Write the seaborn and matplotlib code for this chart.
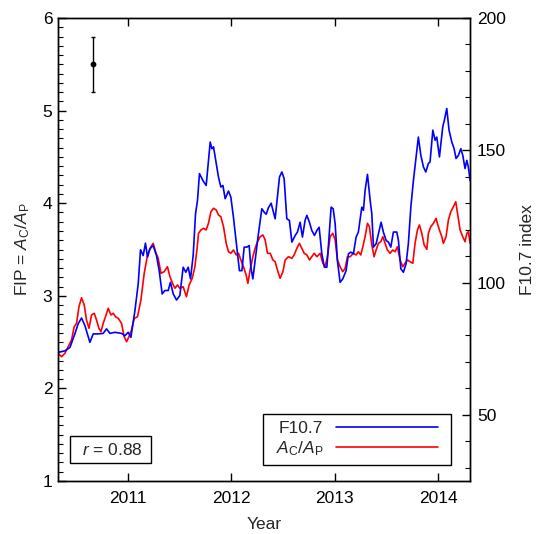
import numpy as np
import pandas as pd
import seaborn as sns
import matplotlib.pyplot as plt
from matplotlib.lines import Line2D
from matplotlib.patches import Rectangle
from matplotlib.ticker import MultipleLocator, NullLocator

# F10.7 index (right axis)
f107_year = [2010.322, 2010.387, 2010.436, 2010.484, 2010.516, 2010.548, 2010.581, 2010.629,
             2010.661, 2010.710, 2010.758, 2010.790, 2010.823, 2010.871, 2010.935, 2010.968,
             2011.000, 2011.026, 2011.065, 2011.097, 2011.119, 2011.145, 2011.167, 2011.187,
             2011.210, 2011.242, 2011.274, 2011.300, 2011.329, 2011.355, 2011.387, 2011.409,
             2011.436, 2011.468, 2011.500, 2011.532, 2011.558, 2011.581, 2011.603, 2011.629,
             2011.652, 2011.671, 2011.690, 2011.723, 2011.755, 2011.777, 2011.794, 2011.810,
             2011.826, 2011.852, 2011.874, 2011.897, 2011.917, 2011.939, 2011.971, 2011.994,
             2012.019, 2012.052, 2012.077, 2012.101, 2012.123, 2012.149, 2012.171, 2012.188,
             2012.207, 2012.229, 2012.261, 2012.294, 2012.317, 2012.336, 2012.358, 2012.384,
             2012.407, 2012.423, 2012.445, 2012.465, 2012.488, 2012.510, 2012.536, 2012.561,
             2012.585, 2012.617, 2012.639, 2012.665, 2012.687, 2012.713, 2012.730, 2012.755,
             2012.778, 2012.804, 2012.827, 2012.849, 2012.875, 2012.900, 2012.924, 2012.949,
             2012.965, 2012.985, 2013.004, 2013.026, 2013.052, 2013.078, 2013.110, 2013.133,
             2013.156, 2013.181, 2013.207, 2013.229, 2013.262, 2013.278, 2013.294, 2013.317,
             2013.343, 2013.359, 2013.375, 2013.401, 2013.423, 2013.449, 2013.471, 2013.498,
             2013.520, 2013.543, 2013.568, 2013.601, 2013.617, 2013.640, 2013.665, 2013.691,
             2013.713, 2013.737, 2013.762, 2013.788, 2013.810, 2013.834, 2013.859, 2013.882,
             2013.907, 2013.923, 2013.950, 2013.972, 2013.988, 2014.014, 2014.046, 2014.062,
             2014.085, 2014.107, 2014.134, 2014.156, 2014.175, 2014.198, 2014.221, 2014.240,
             2014.262, 2014.279, 2014.294, 2014.311]
f107 = [73.6, 74.2, 75.5, 80.7, 84.5, 86.6, 83.7, 77.4,
        80.6, 80.6, 80.8, 82.5, 80.8, 81.2, 80.8, 79.9,
        81.2, 79.3, 89.4, 99.6, 112.4, 110.2, 114.9, 109.6,
        112.8, 114.0, 110.2, 104.5, 95.7, 97.0, 97.0, 100.1,
        95.7, 93.4, 95.1, 105.8, 103.9, 105.8, 101.4, 110.2,
        126.0, 131.1, 141.2, 138.6, 136.7, 146.2, 153.1, 150.6,
        151.3, 145.0, 139.9, 136.1, 136.7, 131.7, 134.6, 132.3,
        124.7, 113.4, 104.5, 104.5, 113.4, 113.4, 114.0, 105.8,
        101.4, 108.3, 118.4, 127.9, 126.6, 125.8, 128.3, 130.0,
        126.6, 124.1, 132.3, 139.9, 141.8, 139.3, 124.1, 123.5,
        115.3, 117.8, 119.1, 122.8, 117.2, 123.5, 125.4, 122.8,
        119.7, 117.8, 119.7, 120.9, 110.9, 105.8, 105.8, 119.7,
        128.5, 127.9, 122.2, 108.3, 100.1, 101.4, 104.5, 110.9,
        111.5, 110.9, 117.2, 119.1, 128.5, 127.3, 134.8, 140.9,
        131.1, 126.0, 113.4, 114.7, 118.4, 122.8, 119.1, 115.9,
        115.3, 113.4, 119.1, 119.1, 115.9, 105.2, 103.9, 107.1,
        114.7, 128.5, 138.6, 147.5, 155.0, 148.1, 143.7, 141.8,
        145.0, 145.6, 157.6, 153.8, 155.0, 147.5, 158.8, 161.4,
        165.8, 157.6, 153.1, 150.6, 146.9, 148.1, 150.6, 148.1,
        143.1, 146.2, 143.7, 138.6]

# FIP bias A_C/A_P (left axis)
fip_year = [2010.322, 2010.354, 2010.387, 2010.419, 2010.451, 2010.477, 2010.500, 2010.523,
            2010.548, 2010.574, 2010.596, 2010.620, 2010.645, 2010.671, 2010.693, 2010.716,
            2010.736, 2010.758, 2010.780, 2010.806, 2010.833, 2010.855, 2010.877, 2010.903,
            2010.935, 2010.961, 2010.984, 2011.007, 2011.032, 2011.058, 2011.090, 2011.123,
            2011.155, 2011.187, 2011.220, 2011.242, 2011.264, 2011.290, 2011.317, 2011.348,
            2011.380, 2011.404, 2011.429, 2011.452, 2011.477, 2011.500, 2011.532, 2011.564,
            2011.590, 2011.620, 2011.646, 2011.667, 2011.681, 2011.704, 2011.729, 2011.755,
            2011.777, 2011.801, 2011.826, 2011.852, 2011.874, 2011.897, 2011.923, 2011.949,
            2011.971, 2011.994, 2012.019, 2012.046, 2012.068, 2012.091, 2012.116, 2012.142,
            2012.159, 2012.181, 2012.207, 2012.229, 2012.252, 2012.278, 2012.304, 2012.326,
            2012.349, 2012.375, 2012.401, 2012.423, 2012.445, 2012.471, 2012.498, 2012.520,
            2012.552, 2012.585, 2012.607, 2012.633, 2012.658, 2012.681, 2012.704, 2012.730,
            2012.755, 2012.778, 2012.801, 2012.827, 2012.859, 2012.885, 2012.907, 2012.929,
            2012.955, 2012.981, 2013.004, 2013.026, 2013.052, 2013.078, 2013.101, 2013.123,
            2013.149, 2013.181, 2013.207, 2013.229, 2013.252, 2013.272, 2013.294, 2013.317,
            2013.336, 2013.359, 2013.381, 2013.401, 2013.423, 2013.446, 2013.466, 2013.488,
            2013.510, 2013.536, 2013.562, 2013.585, 2013.607, 2013.633, 2013.659, 2013.681,
            2013.704, 2013.730, 2013.756, 2013.778, 2013.801, 2013.820, 2013.843, 2013.866,
            2013.892, 2013.907, 2013.930, 2013.956, 2013.982, 2013.994, 2014.014, 2014.037,
            2014.052, 2014.078, 2014.101, 2014.124, 2014.149, 2014.172, 2014.214, 2014.240,
            2014.262, 2014.279, 2014.294, 2014.311]
fip = [2.379, 2.342, 2.379, 2.450, 2.523, 2.666, 2.703, 2.882,
       2.979, 2.901, 2.739, 2.649, 2.793, 2.811, 2.739, 2.649,
       2.612, 2.703, 2.774, 2.865, 2.793, 2.811, 2.774, 2.757,
       2.703, 2.558, 2.504, 2.558, 2.631, 2.757, 2.774, 2.955,
       3.243, 3.441, 3.530, 3.567, 3.476, 3.405, 3.243, 3.260,
       3.314, 3.206, 3.135, 3.081, 3.117, 3.081, 3.098, 2.990,
       3.117, 3.189, 3.314, 3.513, 3.675, 3.711, 3.729, 3.711,
       3.783, 3.908, 3.945, 3.927, 3.873, 3.854, 3.746, 3.567,
       3.476, 3.459, 3.495, 3.441, 3.459, 3.387, 3.314, 3.225,
       3.135, 3.279, 3.422, 3.513, 3.584, 3.638, 3.657, 3.603,
       3.459, 3.459, 3.387, 3.368, 3.279, 3.189, 3.260, 3.387,
       3.422, 3.405, 3.441, 3.513, 3.567, 3.513, 3.459, 3.441,
       3.387, 3.422, 3.459, 3.422, 3.459, 3.351, 3.314, 3.422,
       3.638, 3.675, 3.603, 3.387, 3.314, 3.260, 3.297, 3.422,
       3.422, 3.459, 3.441, 3.476, 3.441, 3.530, 3.638, 3.783,
       3.746, 3.549, 3.422, 3.495, 3.567, 3.584, 3.638, 3.567,
       3.495, 3.459, 3.495, 3.476, 3.530, 3.387, 3.314, 3.351,
       3.387, 3.368, 3.351, 3.567, 3.711, 3.765, 3.675, 3.549,
       3.502, 3.675, 3.746, 3.783, 3.837, 3.783, 3.711, 3.638,
       3.567, 3.638, 3.819, 3.908, 3.962, 4.016, 3.711, 3.638,
       3.584, 3.675, 3.692, 3.567]

# typical uncertainty marker
err_x = [2010.66]
err_y = [5.5]
err_size = [0.3]

r_value = 0.88

sns.set_style("ticks")
plt.rcParams['font.family'] = ['Liberation Sans', 'DejaVu Sans']
plt.rcParams['mathtext.fontset'] = 'custom'
plt.rcParams['mathtext.rm'] = 'Liberation Sans'
plt.rcParams['mathtext.it'] = 'Liberation Sans:italic'
plt.rcParams['axes.linewidth'] = 1.0
fs = 12.5

fig = plt.figure(figsize=(5.36, 5.34), dpi=100)
ax = fig.add_axes([58/536, 1-481/534, 412/536, 463/534])
ax2 = ax.twinx()

df_fip = pd.DataFrame({'year': fip_year, 'fip': fip})
df_f107 = pd.DataFrame({'year': f107_year, 'f107': f107})

sns.lineplot(data=df_fip, x='year', y='fip', ax=ax, color='#ff0000', lw=1.2)
sns.lineplot(data=df_f107, x='year', y='f107', ax=ax2, color='#0000ff', lw=1.2)

# error bar from collections only (Line2D markers on ax lost the minor ticks)
ex = np.array(err_x)
ey = np.array(err_y)
ee = np.array(err_size)
cap = 0.02
ax.vlines(ex, ey - ee, ey + ee, color='black', lw=1.0)
ax.hlines(np.concatenate([ey - ee, ey + ee]), np.concatenate([ex, ex]) - cap,
          np.concatenate([ex, ex]) + cap, color='black', lw=1.0)
ax.scatter(ex, ey, s=10, color='black', zorder=3)

ax.set_xlim(2010.32, 2014.31)
ax.set_ylim(1, 6)
ax2.set_ylim(25, 200)

ax.set_xlabel('Year', fontsize=fs, labelpad=8)
ax.set_ylabel('FIP = $A_\\mathrm{C}$/$A_\\mathrm{P}$', fontsize=fs, labelpad=8)
ax2.set_ylabel('F10.7 index', fontsize=fs, labelpad=10)

for a in (ax, ax2):
    for s in a.spines.values():
        s.set_visible(True)
        s.set_color('black')

# legend: frameless, with its own box drawn around it
handles = [Line2D([], [], color='#0000ff', lw=1.2),
           Line2D([], [], color='#ff0000', lw=1.2)]
labels = ['F10.7', '$A_\\mathrm{C}$/$A_\\mathrm{P}$']
ax2.legend(handles, labels, loc='center', bbox_to_anchor=(0.7257, 0.0896),
           borderaxespad=0, markerfirst=False, handlelength=5.9, fontsize=fs,
           frameon=False, labelspacing=0.2, borderpad=0, handletextpad=0.7)
ax2.add_patch(Rectangle((0.4976, 0.0346), 0.4564, 0.1101, transform=ax.transAxes,
                        fill=False, ec='black', lw=1.0, zorder=5))

ax2.add_patch(Rectangle((0.0291, 0.0389), 0.1966, 0.0583, transform=ax.transAxes,
                        fill=False, ec='black', lw=1.0, zorder=5))
ax2.text(0.131, 0.066, f'$r$ = {r_value:.2f}', transform=ax.transAxes, fontsize=fs,
         ha='center', va='center')

ax.set_xticks([2011, 2012, 2013, 2014])
ax.xaxis.set_minor_locator(NullLocator())
ax.yaxis.set_major_locator(MultipleLocator(1))
ax.yaxis.set_minor_locator(MultipleLocator(0.1))
ax2.yaxis.set_major_locator(MultipleLocator(50))
ax2.yaxis.set_minor_locator(MultipleLocator(10))

ax.tick_params(axis='x', which='major', direction='in', top=True, bottom=True,
               length=6, width=1, labelsize=fs, pad=7, colors='black')
ax.tick_params(axis='y', which='major', direction='in', length=6, width=1,
               labelsize=fs, pad=4, colors='black')
ax.tick_params(axis='y', which='minor', direction='in', length=3.3, width=0.8,
               color='black')
ax2.tick_params(axis='y', which='major', direction='in', length=6, width=1,
                labelsize=fs, pad=5, colors='black')
ax2.tick_params(axis='y', which='minor', direction='in', length=3.3, width=0.8,
                color='black')

fig.savefig('out.png', dpi=100)
